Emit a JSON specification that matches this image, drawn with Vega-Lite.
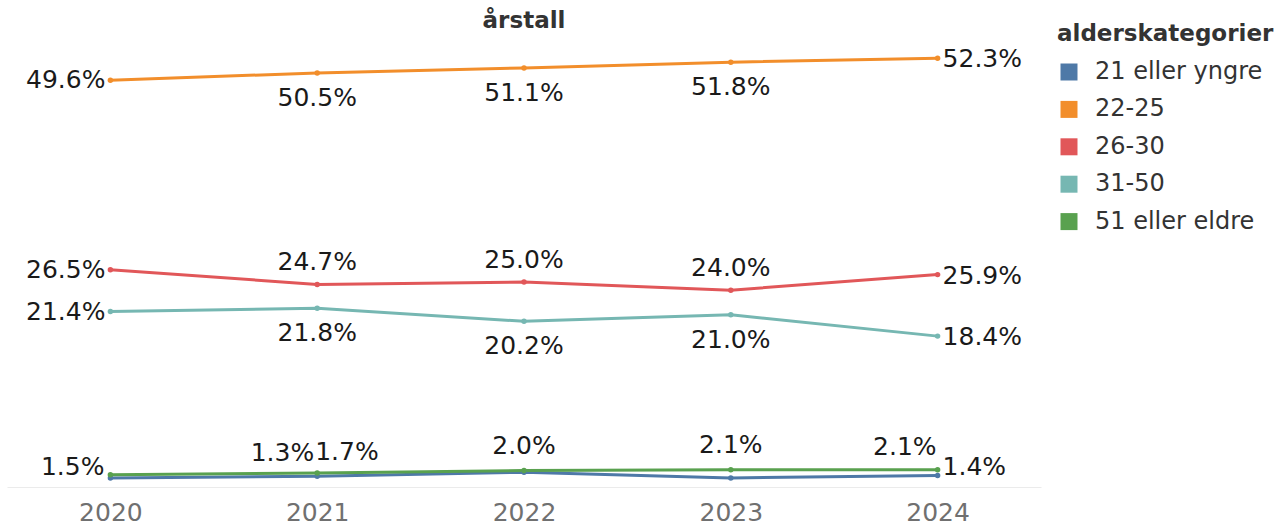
{
  "$schema": "https://vega.github.io/schema/vega-lite/v6.json",
  "autosize": {"type": "none"},
  "width": 1034,
  "height": 451,
  "padding": {"left": 7, "top": 36, "right": 244, "bottom": 41},
  "background": "white",
  "config": {"font": "DejaVu Sans", "view": {"stroke": null}},
  "title": {"text": "årstall", "fontSize": 23, "fontWeight": "bold", "color": "#333333", "anchor": "middle", "baseline": "top", "offset": 0, "dy": 10},
  "data": {
    "values": [
      {"year": "2020", "category": "21 eller yngre", "value": 0.011},
      {"year": "2021", "category": "21 eller yngre", "value": 0.013},
      {"year": "2022", "category": "21 eller yngre", "value": 0.018},
      {"year": "2023", "category": "21 eller yngre", "value": 0.011},
      {"year": "2024", "category": "21 eller yngre", "value": 0.014},
      {"year": "2020", "category": "22-25", "value": 0.496},
      {"year": "2021", "category": "22-25", "value": 0.505},
      {"year": "2022", "category": "22-25", "value": 0.511},
      {"year": "2023", "category": "22-25", "value": 0.518},
      {"year": "2024", "category": "22-25", "value": 0.523},
      {"year": "2020", "category": "26-30", "value": 0.265},
      {"year": "2021", "category": "26-30", "value": 0.247},
      {"year": "2022", "category": "26-30", "value": 0.250},
      {"year": "2023", "category": "26-30", "value": 0.240},
      {"year": "2024", "category": "26-30", "value": 0.259},
      {"year": "2020", "category": "31-50", "value": 0.214},
      {"year": "2021", "category": "31-50", "value": 0.218},
      {"year": "2022", "category": "31-50", "value": 0.202},
      {"year": "2023", "category": "31-50", "value": 0.210},
      {"year": "2024", "category": "31-50", "value": 0.184},
      {"year": "2020", "category": "51 eller eldre", "value": 0.015},
      {"year": "2021", "category": "51 eller eldre", "value": 0.017},
      {"year": "2022", "category": "51 eller eldre", "value": 0.020},
      {"year": "2023", "category": "51 eller eldre", "value": 0.021},
      {"year": "2024", "category": "51 eller eldre", "value": 0.021}
    ]
  },
  "encoding": {
    "x": {
      "field": "year", "type": "ordinal",
      "scale": {"type": "point", "padding": 0.5},
      "axis": {"title": null, "labelAngle": 0, "labelFontSize": 25, "labelColor": "#707070", "ticks": false, "domain": true, "domainColor": "#ebebeb", "domainWidth": 1, "labelPadding": 13, "grid": false}
    },
    "y": {
      "field": "value", "type": "quantitative",
      "scale": {"domain": [0, 0.55], "nice": false},
      "axis": null
    }
  },
  "layer": [
    {
      "mark": {"type": "line", "strokeWidth": 3},
      "encoding": {
        "color": {
          "field": "category", "type": "nominal",
          "scale": {"domain": ["21 eller yngre", "22-25", "26-30", "31-50", "51 eller eldre"], "range": ["#4e79a7", "#f28e2b", "#e15759", "#76b7b2", "#59a14f"]},
          "legend": {
            "title": "alderskategorier", "orient": "none", "legendX": 1050, "legendY": -13,
            "titleFontSize": 23, "titleFontWeight": "bold", "titleColor": "#333333", "titlePadding": 14, "titleLimit": 400,
            "labelFontSize": 24, "labelColor": "#333333", "labelOffset": 14, "rowPadding": 13.4, "labelLimit": 400,
            "symbolType": "square", "symbolSize": 289, "padding": 0,
            "encode": {"symbols": {"update": {"fill": {"scale": "color", "field": "value"}, "strokeWidth": {"value": 0}}}}
          }
        }
      }
    },
    {
      "mark": {"type": "point", "filled": true, "size": 30, "opacity": 1},
      "encoding": {"color": {"field": "category", "type": "nominal", "legend": null}}
    },
    {
      "transform": [{"filter": "datum.year == '2020' && datum.category != '21 eller yngre' && datum.category != '51 eller eldre'"}],
      "mark": {"type": "text", "align": "right", "baseline": "middle", "dx": -5, "fontSize": 25, "color": "#1a1a1a"},
      "encoding": {"text": {"field": "value", "format": ".1%"}}
    },
    {
      "transform": [{"filter": "datum.year == '2020' && datum.category == '51 eller eldre'"}],
      "mark": {"type": "text", "align": "right", "baseline": "middle", "dx": -6, "dy": -8, "fontSize": 25, "color": "#1a1a1a"},
      "encoding": {"text": {"field": "value", "format": ".1%"}}
    },
    {
      "transform": [{"filter": "datum.year == '2024' && datum.category != '21 eller yngre' && datum.category != '51 eller eldre'"}],
      "mark": {"type": "text", "align": "left", "baseline": "middle", "dx": 5, "dy": 1, "fontSize": 25, "color": "#1a1a1a"},
      "encoding": {"text": {"field": "value", "format": ".1%"}}
    },
    {
      "transform": [{"filter": "datum.year == '2024' && datum.category == '21 eller yngre'"}],
      "mark": {"type": "text", "align": "left", "baseline": "middle", "dx": 5, "dy": -9, "fontSize": 25, "color": "#1a1a1a"},
      "encoding": {"text": {"field": "value", "format": ".1%"}}
    },
    {
      "transform": [{"filter": "datum.year == '2024' && datum.category == '51 eller eldre'"}],
      "mark": {"type": "text", "align": "right", "baseline": "middle", "dx": -1, "dy": -23, "fontSize": 25, "color": "#1a1a1a"},
      "encoding": {"text": {"field": "value", "format": ".1%"}}
    },
    {
      "transform": [{"filter": "datum.year != '2020' && datum.year != '2024' && (datum.category == '22-25' || datum.category == '31-50')"}],
      "mark": {"type": "text", "align": "center", "baseline": "middle", "dy": 25, "fontSize": 25, "color": "#1a1a1a"},
      "encoding": {"text": {"field": "value", "format": ".1%"}}
    },
    {
      "transform": [{"filter": "datum.year != '2020' && datum.year != '2024' && datum.category == '26-30'"}],
      "mark": {"type": "text", "align": "center", "baseline": "middle", "dy": -22, "fontSize": 25, "color": "#1a1a1a"},
      "encoding": {"text": {"field": "value", "format": ".1%"}}
    },
    {
      "transform": [{"filter": "(datum.year == '2022' || datum.year == '2023') && datum.category == '51 eller eldre'"}],
      "mark": {"type": "text", "align": "center", "baseline": "middle", "dy": -25, "fontSize": 25, "color": "#1a1a1a"},
      "encoding": {"text": {"field": "value", "format": ".1%"}}
    },
    {
      "transform": [{"filter": "datum.year == '2021' && datum.category == '21 eller yngre'"}],
      "mark": {"type": "text", "align": "right", "baseline": "middle", "dx": -3, "dy": -23, "fontSize": 25, "color": "#1a1a1a"},
      "encoding": {"text": {"field": "value", "format": ".1%"}}
    },
    {
      "transform": [{"filter": "datum.year == '2021' && datum.category == '51 eller eldre'"}],
      "mark": {"type": "text", "align": "left", "baseline": "middle", "dx": -2, "dy": -21, "fontSize": 25, "color": "#1a1a1a"},
      "encoding": {"text": {"field": "value", "format": ".1%"}}
    }
  ]
}
